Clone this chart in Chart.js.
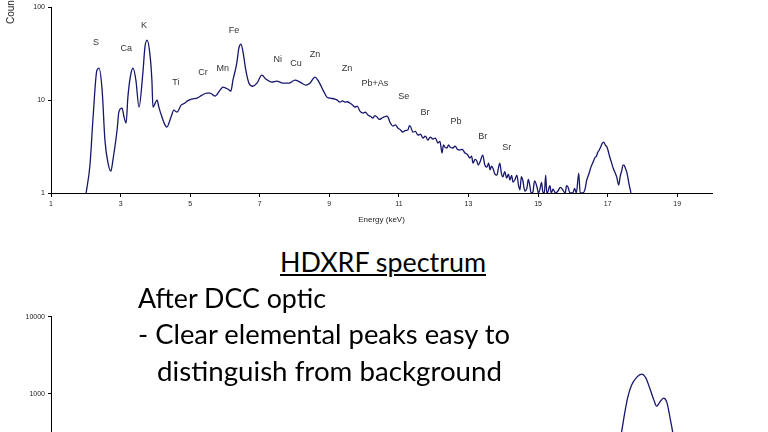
<!DOCTYPE html>
<html>
<head>
<meta charset="utf-8">
<script src="https://cdn.jsdelivr.net/npm/chart.js@4.4.0/dist/chart.umd.min.js"></script>
<style>
    html, body { margin: 0; padding: 0; background: #fff; }
    body { width: 768px; height: 432px; overflow: hidden; position: relative; font-family: Lato, 'Open Sans', sans-serif; }
    canvas { position: absolute; left: 0; }
    #topChart { top: 0; }
    #bottomChart { top: 300px; }
    .line { position: absolute; white-space: nowrap; font-size: 27px; line-height: 27px; color: #000; transform-origin: 0 0; }
    #yTitle {
        position: absolute; left: 5px; top: 24px; white-space: nowrap; color: #222;
        font: 10px 'Liberation Sans', Arial, sans-serif; line-height: 11px;
        transform-origin: 0 0; transform: rotate(-90deg);
    }
</style>
</head>
<body>
<canvas id="topChart" width="768" height="232"></canvas>
<canvas id="bottomChart" width="768" height="300"></canvas>
<div id="yTitle">Counts</div>
<div class="line" data-width="206" style="top:248px;left:280px;text-decoration:underline;">HDXRF spectrum</div>
<div class="line" data-width="188" style="top:284px;left:138px;">After DCC optic</div>
<div class="line" data-width="372" style="top:320px;left:138px;">- Clear elemental peaks easy to</div>
<div class="line" data-width="345" style="top:357px;left:157px;">distinguish from background</div>

<script>
// top spectrum (energy in keV, counts)
const energy = [
    2.01, 2.12, 2.21, 2.32, 2.38, 2.47, 2.55, 2.64, 2.72, 2.78, 2.90, 2.95, 3.04, 3.10, 3.16, 3.21,
    3.30, 3.36, 3.44, 3.53, 3.64, 3.70, 3.76, 3.84, 3.90, 3.93, 4.05, 4.10, 4.19, 4.28, 4.33, 4.45,
    4.53, 4.62, 4.74, 4.85, 4.91, 5.05, 5.20, 5.34, 5.48, 5.57, 5.71, 5.86, 5.94, 6.09, 6.17, 6.23,
    6.34, 6.40, 6.46, 6.52, 6.60, 6.69, 6.80, 6.92, 7.06, 7.18, 7.35, 7.49, 7.67, 7.84, 8.01, 8.16,
    8.33, 8.44, 8.59, 8.67, 8.75, 8.82, 8.93, 9.02, 9.16, 9.23, 9.30, 9.38, 9.45, 9.52, 9.59, 9.66,
    9.74, 9.80, 9.88, 9.97, 10.04, 10.11, 10.18, 10.25, 10.31, 10.37, 10.44, 10.51, 10.58, 10.66, 10.70, 10.74,
    10.83, 10.90, 10.97, 11.04, 11.11, 11.18, 11.26, 11.30, 11.34, 11.40, 11.47, 11.55, 11.62, 11.69, 11.76, 11.83,
    11.90, 11.98, 12.05, 12.12, 12.18, 12.24, 12.28, 12.32, 12.38, 12.43, 12.47, 12.55, 12.62, 12.68, 12.75, 12.82,
    12.90, 12.97, 13.04, 13.09, 13.13, 13.19, 13.24, 13.28, 13.33, 13.41, 13.47, 13.53, 13.58, 13.62, 13.66, 13.70,
    13.76, 13.82, 13.86, 13.90, 13.95, 13.99, 14.04, 14.10, 14.15, 14.19, 14.24, 14.28, 14.34, 14.39, 14.44, 14.48,
    14.52, 14.56, 14.62, 14.68, 14.72, 14.76, 14.80, 14.85, 14.90, 14.97, 15.01, 15.05, 15.10, 15.14, 15.18, 15.22,
    15.25, 15.28, 15.34, 15.38, 15.43, 15.50, 15.57, 15.64, 15.71, 15.78, 15.82, 15.86, 15.92, 16.00, 16.05, 16.10,
    16.17, 16.21, 16.29, 16.35, 16.40, 16.46, 16.52, 16.57, 16.63, 16.68, 16.72, 16.76, 16.80, 16.84, 16.89, 16.93,
    16.98, 17.02, 17.06, 17.10, 17.15, 17.20, 17.26, 17.32, 17.36, 17.41, 17.44, 17.47, 17.51, 17.55, 17.61, 17.67
];
const counts = [
    1.0, 2.0, 6.57, 21.0, 22.1, 12.8, 3.71, 2.1, 1.72, 2.26, 4.76, 7.43, 8.2, 6.57, 5.66, 10.77,
    19.5, 22.1, 16.4, 8.41, 19.5, 37.1, 44.2, 32.0, 16.4, 8.41, 10.0, 8.41, 6.57, 5.38, 5.13, 6.57,
    7.8, 7.43, 8.83, 9.29, 9.75, 10.25, 10.5, 11.3, 11.9, 11.9, 11.04, 12.8, 13.8, 13.1, 12.5, 16.4,
    25.0, 36.2, 40.0, 32.8, 21.0, 15.2, 14.1, 15.2, 18.6, 16.8, 15.6, 16.0, 15.2, 15.2, 16.4, 15.6,
    14.5, 15.2, 17.7, 16.4, 14.5, 12.8, 10.77, 10.5, 10.25, 10.0, 9.51, 9.8, 9.51, 9.6, 9.29, 8.9,
    8.41, 8.6, 7.62, 7.25, 7.4, 6.9, 6.7, 6.4, 6.8, 6.57, 6.2, 6.4, 6.6, 6.73, 6.4, 5.8,
    5.25, 5.4, 5.0, 4.8, 4.53, 4.7, 4.76, 5.3, 5.13, 4.53, 4.6, 4.2, 4.3, 3.9, 4.1, 3.71,
    4.0, 3.81, 3.9, 3.45, 3.6, 2.69, 3.3, 3.12, 3.05, 3.3, 3.12, 3.05, 3.2, 2.95, 2.9, 2.95,
    2.69, 2.6, 2.38, 2.5, 2.1, 2.3, 2.21, 2.0, 2.15, 2.56, 2.0, 1.9, 2.1, 1.77, 1.95, 1.86,
    1.6, 1.56, 1.85, 2.1, 1.6, 1.49, 1.7, 1.45, 1.6, 1.38, 1.55, 1.31, 1.4, 1.56, 1.2, 1.08,
    1.5, 1.38, 1.05, 1.13, 1.4, 1.22, 1.0, 1.02, 1.35, 1.16, 1.0, 1.08, 1.3, 1.02, 1.0, 1.56,
    1.0, 1.02, 1.2, 1.0, 1.1, 1.0, 1.05, 1.15, 1.08, 1.0, 1.2, 1.16, 1.0, 1.0, 1.12, 1.0,
    1.64, 1.0, 1.0, 1.1, 1.38, 1.6, 1.9, 2.1, 2.38, 2.5, 2.76, 2.9, 3.12, 3.4, 3.53, 3.3,
    3.12, 2.8, 2.44, 2.2, 1.9, 1.7, 1.49, 1.22, 1.5, 1.77, 2.0, 2.0, 1.85, 1.68, 1.28, 1.0
];

// element labels placed at (energy, counts)
const peakNames = ['S', 'Ca', 'K', 'Ti', 'Cr', 'Mn', 'Fe', 'Ni', 'Cu', 'Zn', 'Zn', 'Pb+As', 'Se', 'Br', 'Pb', 'Br', 'Sr'];
const peakEnergy = [2.29, 3.16, 3.67, 4.59, 5.37, 5.94, 6.26, 7.52, 8.04, 8.59, 9.51, 10.31, 11.14, 11.75, 12.64, 13.41, 14.10];
const peakCounts = [42.0, 36.2, 64.0, 15.6, 20.0, 22.1, 56.6, 27.6, 25.0, 31.2, 22.1, 14.9, 10.8, 7.43, 5.95, 4.1, 3.12];

// second spectrum (after DCC optic), only its top is in view
const dccEnergy = [16.9, 17.2, 17.41, 17.49, 17.58, 17.69, 17.84, 17.98, 18.10, 18.21, 18.33, 18.41, 18.50, 18.61, 18.70, 18.79, 18.87, 19.0, 19.2];
const dccCounts = [60, 120, 338, 561, 906, 1297, 1648, 1803, 1600, 1186, 828, 692, 780, 879, 780, 498, 318, 120, 50];

const xTicks = [1, 3, 5, 7, 9, 11, 13, 15, 17, 19];
const topYTicks = [1, 10, 100];
const bottomYTicks = [10, 100, 1000, 10000];

const tickFont = { family: "'Liberation Sans', Arial, sans-serif", size: 7 };

const peakLabelPlugin = {
    id: 'peakLabels',
    afterDatasetsDraw(chart) {
        const ctx = chart.ctx;
        const x = chart.scales.x;
        const y = chart.scales.y;
        ctx.save();
        ctx.font = "9px 'Liberation Sans', Arial, sans-serif";
        ctx.fillStyle = '#333';
        ctx.textAlign = 'center';
        ctx.textBaseline = 'middle';
        peakNames.forEach((name, i) => {
            ctx.fillText(name, x.getPixelForValue(peakEnergy[i]), y.getPixelForValue(peakCounts[i]));
        });
        ctx.restore();
    }
};

function makeSpectrum(canvasId, xs, ys, yMin, yMax, yTicks, padTop, xBoxHeight, showTitle, extraPlugins) {
    const canvas = document.getElementById(canvasId);
    return new Chart(canvas.getContext('2d'), {
        type: 'line',
        data: {
            datasets: [{
                data: xs.map((e, i) => ({ x: e, y: ys[i] })),
                borderColor: '#16166e',
                borderWidth: 1.3,
                pointRadius: 0,
                cubicInterpolationMode: 'monotone',
                fill: false
            }]
        },
        options: {
            responsive: false,
            animation: false,
            devicePixelRatio: 1,
            layout: { padding: { left: 0, right: 56, top: padTop, bottom: 0 } },
            plugins: { legend: { display: false }, tooltip: { enabled: false } },
            scales: {
                x: {
                    type: 'linear',
                    min: 1,
                    max: 20,
                    afterBuildTicks: (scale) => { scale.ticks = xTicks.map(v => ({ value: v })); },
                    afterFit: (scale) => { scale.height = xBoxHeight; },
                    ticks: { font: tickFont, color: '#222', padding: 3, maxRotation: 0, callback: (v) => String(v) },
                    grid: { drawOnChartArea: false, drawTicks: true, tickLength: 4, color: '#000' },
                    border: { display: true, color: '#000', width: 1 },
                    title: {
                        display: showTitle,
                        text: 'Energy (keV)',
                        color: '#222',
                        font: { family: "'Liberation Sans', Arial, sans-serif", size: 8 },
                        padding: { top: 0, bottom: 7 }
                    }
                },
                y: {
                    type: 'logarithmic',
                    min: yMin,
                    max: yMax,
                    afterBuildTicks: (scale) => { scale.ticks = yTicks.map(v => ({ value: v })); },
                    afterFit: (scale) => { scale.width = 51; },
                    ticks: { font: tickFont, color: '#222', padding: 3, callback: (v) => String(v) },
                    grid: { drawOnChartArea: false, drawTicks: true, tickLength: 3, color: '#000' },
                    border: { display: true, color: '#000', width: 1 }
                }
            }
        },
        plugins: extraPlugins
    });
}

makeSpectrum('topChart', energy, counts, 1, 100, topYTicks, 7, 232 - 193, true, [peakLabelPlugin]);
makeSpectrum('bottomChart', dccEnergy, dccCounts, 10, 10000, bottomYTicks, 16.7, 300 - 248, true, []);

// squeeze the slide text to the widths in the picture
document.querySelectorAll('.line').forEach((el) => {
    const target = Number(el.dataset.width);
    const actual = el.getBoundingClientRect().width;
    el.style.transform = `scaleX(${target / actual})`;
});
</script>
</body>
</html>
